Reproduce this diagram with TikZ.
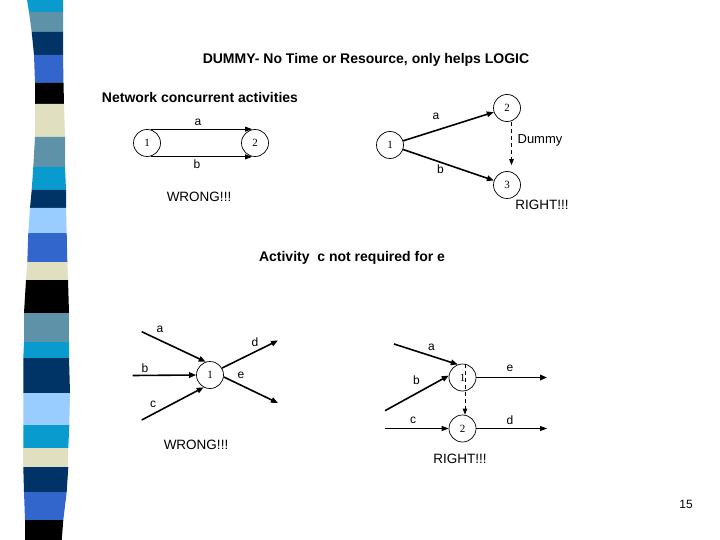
\documentclass[tikz,border=0pt]{standalone}
\usepackage{fontspec}
\setmainfont{Liberation Sans}
\newfontfamily\numfont{Liberation Serif}
\usetikzlibrary{arrows.meta}
\definecolor{bcyan}{RGB}{10,155,206}
\definecolor{bslate}{RGB}{94,146,168}
\definecolor{bnavy}{RGB}{0,51,102}
\definecolor{broyal}{RGB}{51,102,204}
\definecolor{bbeige}{RGB}{224,224,192}
\definecolor{blight}{RGB}{153,204,255}
\newcommand{\band}[7]{\fill[#1] (#3,#2) -- (#4,#2) -- (#7,#5) -- (#6,#5) -- cycle;}
\tikzset{
  circ/.style={circle,draw,line width=0.7pt,minimum size=27pt,inner sep=0pt,font=\numfont\fontsize{11}{12}\selectfont},
  thinarr/.style={line width=0.8pt,-{Triangle[length=7pt,width=5pt]}},
  thickarr/.style={line width=1.6pt,-{Triangle[length=7pt,width=5.5pt]}},
  dumarr/.style={line width=0.8pt,dash pattern=on 4pt off 3pt,-{Triangle[length=6pt,width=4.5pt]}},
  lbl/.style={font=\fontsize{12}{14}\selectfont,inner sep=0pt},
  big/.style={font=\fontsize{13.5}{15}\selectfont,inner sep=0pt},
  ttl/.style={font=\bfseries\fontsize{14}{16}\selectfont,inner sep=0pt}
}
\begin{document}
\begin{tikzpicture}[x=1pt,y=-1pt]
\useasboundingbox (0,0) rectangle (720,540);
\fill[white] (0,0) rectangle (720,540);
% left stripe
\band{bcyan}{0}{27}{63}{12}{29}{63}
\band{bslate}{12}{29}{63}{32}{31.7}{63}
\band{bnavy}{32}{31.7}{63}{55}{34}{63}
\band{broyal}{55}{34}{63}{83}{35}{63.5}
\band{black}{83}{35}{63.5}{104}{35}{64}
\band{bbeige}{104}{35}{64}{137}{35}{65}
\band{bslate}{137}{35}{65}{167}{33.3}{65}
\band{bcyan}{167}{33.3}{65}{190}{31.7}{66}
\band{bnavy}{190}{31.7}{66}{208}{30}{66}
\band{blight}{208}{30}{66}{233}{28.3}{66.7}
\band{broyal}{233}{28.3}{66.7}{262}{27.3}{67.3}
\band{bbeige}{262}{27.3}{67.3}{280}{26}{68}
\band{black}{280}{26}{68}{313}{24}{69}
\band{bslate}{313}{24}{69}{342}{24}{69}
\band{bcyan}{342}{24}{69}{358}{23.3}{69}
\band{bnavy}{358}{23.3}{69}{393}{23.3}{70}
\band{blight}{393}{23.3}{70}{425}{23.3}{69.3}
\band{bcyan}{425}{23.3}{69.3}{448}{23.3}{68.3}
\band{bbeige}{448}{23.3}{68.3}{467}{23.3}{68.3}
\band{bnavy}{467}{23.3}{68.3}{492}{24}{66.7}
\band{broyal}{492}{24}{66.7}{520}{25}{63.3}
\band{black}{520}{25}{63.3}{540}{25}{61.7}

% titles
\node[ttl] (title) at (366,60) {DUMMY- No Time or Resource, only helps LOGIC};
\node[ttl] (net) at (200,97) {Network concurrent activities};
\node[ttl] (act) at (352,258) {Activity\ \ c not required for e};

% top-left (wrong)
\node[circ] (L1) at (147,143) {1};
\node[circ] (L2) at (255,143) {2};
\draw[thinarr] ([xshift=4pt]L1.north) -- ([xshift=-3pt]L2.north);
\draw[thinarr] ([xshift=4pt]L1.south) -- ([xshift=-3pt]L2.south);
\node[lbl] (la) at (198,122) {a};
\node[lbl] (lb) at (197,164) {b};
\node[big] (lw) at (199,197) {WRONG!!!};

% top-right (right)
\node[circ] (R1) at (390,145) {1};
\node[circ] (R2) at (507,108) {2};
\node[circ] (R3) at (507,185) {3};
\draw[thickarr] (R1) -- (R2);
\draw[thickarr] (R1) -- (R3);
\draw[dumarr,shorten >=6pt] ([xshift=4.5pt]R2.south) -- ([xshift=4.5pt]R3.north);
\node[lbl] (ra) at (436,116) {a};
\node[lbl] (rb) at (440.5,169) {b};
\node[font=\fontsize{13}{15}\selectfont,inner sep=0pt] (rd) at (540,140) {Dummy};
\node[big] (rr) at (542,205) {RIGHT!!!};

% bottom-left (wrong)
\node[circ] (B1) at (210,375) {1};
\coordinate (Ba) at (141.7,331.7);
\coordinate (Bb) at (132.7,375.5);
\coordinate (Bc) at (141.7,420);
\coordinate (Bd) at (278,340.5);
\coordinate (Be) at (278,403);
\draw[thickarr] (Ba) -- (B1.108);
\draw[thickarr] (Bb) -- (B1.west);
\draw[thickarr] (Bc) -- (B1.243);
\draw[thickarr] (B1.30) -- (Bd);
\draw[thickarr] (B1.-8) -- (Be);
\node[lbl] (ba) at (160,329) {a};
\node[lbl] (bb) at (145,368) {b};
\node[lbl] (bc) at (153,404) {c};
\node[lbl] (bd) at (255,342) {d};
\node[lbl] (be) at (241,375) {e};
\node[big] (bw) at (196,445) {WRONG!!!};

% bottom-right (right)
\node[circ] (C1) at (462.5,377.5) {1};
\node[circ] (C2) at (462.5,428.5) {2};
\coordinate (Ca) at (394,344);
\coordinate (Cb) at (385,410.7);
\coordinate (Cc) at (385,428.5);
\coordinate (Ce) at (547,377.5);
\coordinate (Cd) at (547,428.5);
\draw[thickarr] (Ca) -- (C1.110);
\draw[thickarr] (Cb) -- (C1.172);
\draw[thinarr] (Cc) -- (C2.west);
\draw[thickarr] (C1.east) -- (Ce);
\draw[thinarr] (C2.east) -- (Cd);
\draw[dumarr] ([xshift=2.5pt]C1.north) -- ([xshift=2.5pt]C2.north);
\node[lbl] (ca) at (431.5,347) {a};
\node[lbl] (cb) at (416.5,380) {b};
\node[lbl] (cc) at (413,420) {c};
\node[lbl] (ce) at (510,368.5) {e};
\node[lbl] (cd) at (510,420) {d};
\node[big] (cr) at (460,459) {RIGHT!!!};

\node[font=\fontsize{12}{14}\selectfont,inner sep=0pt] (pg) at (686,504) {15};
\end{tikzpicture}
\end{document}
